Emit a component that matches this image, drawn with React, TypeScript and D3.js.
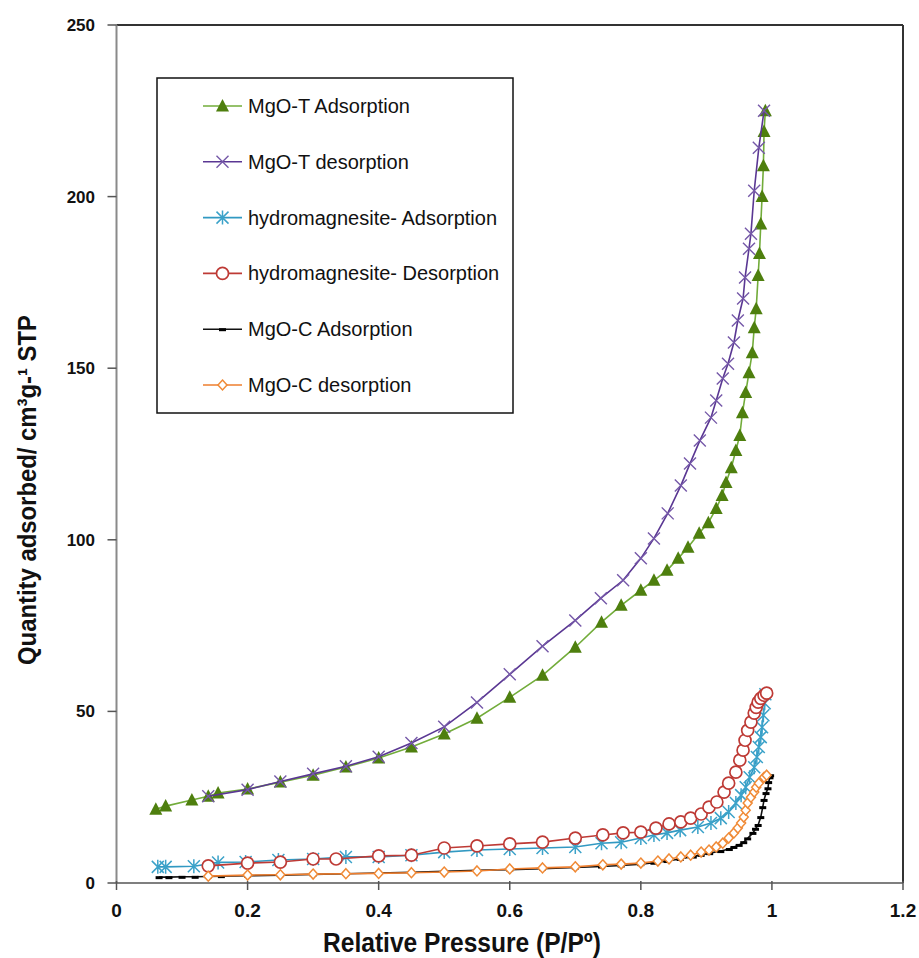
import React from "react";
import * as d3 from "d3";

// relative pressure (P/P0) and quantity adsorbed (cm3/g STP)
const mgoTAdsX = [0.06, 0.075, 0.115, 0.14, 0.155, 0.2, 0.25, 0.3, 0.35, 0.4, 0.45, 0.5, 0.55, 0.6, 0.65, 0.7, 0.74, 0.77, 0.8, 0.82, 0.84, 0.857, 0.872, 0.889, 0.903, 0.915, 0.924, 0.93, 0.938, 0.945, 0.951, 0.955, 0.96, 0.965, 0.97, 0.973, 0.976, 0.979, 0.981, 0.983, 0.985, 0.987, 0.988, 0.99];
const mgoTAdsY = [21.5, 22.4, 24.2, 25.3, 26.2, 27.4, 29.4, 31.4, 33.8, 36.4, 39.6, 43.4, 48, 54.1, 60.5, 68.7, 76, 80.9, 85.3, 88.2, 91.1, 94.6, 97.8, 101.9, 105, 109.1, 112.9, 116.7, 121, 126, 130.4, 137, 142.9, 148.7, 154.5, 161.8, 167.3, 177, 183.4, 192, 200, 209, 219, 225];

const mgoTDesX = [0.14, 0.2, 0.25, 0.3, 0.35, 0.4, 0.45, 0.5, 0.55, 0.6, 0.65, 0.7, 0.739, 0.773, 0.8, 0.82, 0.841, 0.861, 0.875, 0.89, 0.907, 0.915, 0.925, 0.933, 0.942, 0.948, 0.956, 0.959, 0.965, 0.968, 0.973, 0.98, 0.988];
const mgoTDesY = [25.3, 27.2, 29.6, 31.8, 34, 36.8, 40.8, 45.5, 52.6, 60.8, 69, 76.5, 83, 88.2, 94.6, 100.4, 107.7, 115.8, 122.2, 128.9, 135.6, 140.6, 147, 151.3, 157.5, 163.9, 170.3, 176.4, 184.8, 189.2, 201.7, 214.2, 225];

const hydroAdsX = [0.063, 0.075, 0.118, 0.155, 0.197, 0.247, 0.3, 0.35, 0.4, 0.45, 0.5, 0.55, 0.6, 0.65, 0.7, 0.74, 0.77, 0.8, 0.82, 0.84, 0.86, 0.887, 0.907, 0.922, 0.934, 0.945, 0.953, 0.96, 0.966, 0.973, 0.977, 0.98, 0.983, 0.985, 0.987, 0.989, 0.99];
const hydroAdsY = [4.7, 4.7, 4.9, 6.0, 6.1, 6.7, 7.0, 7.6, 7.6, 8.1, 9.0, 9.6, 9.9, 10.2, 10.5, 11.6, 11.9, 13.1, 14.0, 14.6, 15.4, 16.3, 17.5, 18.9, 20.7, 23.3, 25.6, 27.9, 30.8, 33.7, 36.7, 39.6, 42.5, 45.4, 48.9, 52.4, 55];

const hydroDesX = [0.14, 0.2, 0.25, 0.3, 0.335, 0.4, 0.45, 0.5, 0.55, 0.6, 0.65, 0.7, 0.742, 0.773, 0.8, 0.823, 0.843, 0.861, 0.876, 0.892, 0.904, 0.916, 0.927, 0.934, 0.945, 0.951, 0.956, 0.959, 0.963, 0.968, 0.973, 0.976, 0.979, 0.983, 0.988, 0.992];
const hydroDesY = [5.0, 5.8, 6.1, 7.0, 7.0, 7.9, 8.1, 10.2, 10.8, 11.4, 11.9, 13.1, 14.0, 14.6, 14.8, 16.0, 17.2, 17.8, 18.9, 20.1, 22.1, 23.6, 26.5, 29.1, 32.3, 35.8, 38.7, 41.6, 44.5, 46.9, 49.5, 51.2, 52.7, 53.8, 54.7, 55.3];

const mgoCAdsX = [0.065, 0.08, 0.1, 0.12, 0.14, 0.16, 0.2, 0.25, 0.3, 0.35, 0.4, 0.45, 0.5, 0.55, 0.6, 0.65, 0.7, 0.74, 0.77, 0.8, 0.82, 0.84, 0.86, 0.88, 0.892, 0.905, 0.922, 0.935, 0.942, 0.95, 0.957, 0.963, 0.971, 0.975, 0.979, 0.983, 0.986, 0.988, 0.991, 0.994, 0.995, 0.997, 0.998];
const mgoCAdsY = [1.7, 1.7, 1.8, 1.8, 1.9, 2.0, 2.1, 2.3, 2.5, 2.7, 2.9, 3.1, 3.4, 3.7, 3.9, 4.2, 4.5, 4.8, 5.1, 5.5, 5.9, 6.4, 7.0, 7.7, 8.2, 8.7, 9.3, 9.9, 10.5, 11.1, 11.9, 13.0, 14.6, 15.8, 16.9, 19.2, 22.1, 24.2, 26.2, 27.6, 29.4, 30.8, 31.4];

const mgoCDesX = [0.14, 0.2, 0.25, 0.3, 0.35, 0.4, 0.45, 0.5, 0.55, 0.6, 0.65, 0.7, 0.742, 0.77, 0.8, 0.826, 0.843, 0.861, 0.876, 0.892, 0.904, 0.915, 0.925, 0.934, 0.942, 0.948, 0.953, 0.957, 0.96, 0.963, 0.968, 0.973, 0.976, 0.98, 0.988, 0.992];
const mgoCDesY = [2.0, 2.3, 2.4, 2.6, 2.7, 2.8, 3.0, 3.2, 3.5, 4.1, 4.4, 4.7, 5.3, 5.5, 5.8, 6.4, 7.0, 7.6, 8.1, 9.0, 9.6, 10.5, 11.6, 13.1, 14.6, 16.0, 17.5, 19.2, 21.2, 23.3, 25.0, 26.5, 27.9, 29.1, 30.8, 31.4];

const seriesNames = [
  "MgO-T Adsorption",
  "MgO-T desorption",
  "hydromagnesite- Adsorption",
  "hydromagnesite- Desorption",
  "MgO-C Adsorption",
  "MgO-C desorption",
];

const xTicks = [0, 0.2, 0.4, 0.6, 0.8, 1, 1.2];
const yTicks = [0, 50, 100, 150, 200, 250];

const FONT = "'Liberation Sans', Arial, Helvetica, sans-serif";

const series = [
  { name: seriesNames[0], xs: mgoTAdsX, ys: mgoTAdsY, line: "#72AC3A", color: "#4E7F0E", marker: "triangle" },
  { name: seriesNames[1], xs: mgoTDesX, ys: mgoTDesY, line: "#5A3793", color: "#7558A8", marker: "x" },
  { name: seriesNames[2], xs: hydroAdsX, ys: hydroAdsY, line: "#3199C2", color: "#3BA2C9", marker: "star" },
  { name: seriesNames[3], xs: hydroDesX, ys: hydroDesY, line: "#BE3A35", color: "#BE3A35", marker: "circle" },
  { name: seriesNames[4], xs: mgoCAdsX, ys: mgoCAdsY, line: "#111111", color: "#000000", marker: "dash" },
  { name: seriesNames[5], xs: mgoCDesX, ys: mgoCDesY, line: "#EE7E2E", color: "#F08A36", marker: "diamond" },
];

function Marker({ type, x, y, color }) {
  switch (type) {
    case "triangle":
      return <path d={`M${x},${y - 7}L${x + 6.5},${y + 5.5}L${x - 6.5},${y + 5.5}Z`} fill={color} />;
    case "x":
      return (
        <path
          d={`M${x - 6},${y - 6}L${x + 6},${y + 6}M${x - 6},${y + 6}L${x + 6},${y - 6}`}
          stroke={color}
          strokeWidth={1.4}
        />
      );
    case "star":
      return (
        <path
          d={`M${x - 6},${y - 6}L${x + 6},${y + 6}M${x - 6},${y + 6}L${x + 6},${y - 6}M${x},${y - 7}L${x},${y + 7}`}
          stroke={color}
          strokeWidth={1.5}
        />
      );
    case "circle":
      return <circle cx={x} cy={y} r={6} fill="#fff" stroke={color} strokeWidth={1.7} />;
    case "dash":
      return <rect x={x - 3.5} y={y - 1} width={7} height={3} fill={color} />;
    case "diamond":
      return (
        <path d={`M${x},${y - 5}L${x + 4.5},${y}L${x},${y + 5}L${x - 4.5},${y}Z`} fill="#fff" stroke={color} strokeWidth={1.5} />
      );
    default:
      return null;
  }
}

export default function App() {
  const width = 919;
  const height = 958;
  const x = d3.scaleLinear().domain([0, 1.2]).range([116.5, 903]);
  const y = d3.scaleLinear().domain([0, 250]).range([883, 25]);

  const line = d3
    .line<[number, number]>()
    .x((d) => x(d[0]))
    .y((d) => y(d[1]));

  // legend
  const legend = { left: 157, top: 78, width: 356, height: 335, rowStart: 106, rowGap: 55.8 };

  return (
    <svg
      width={width}
      height={height}
      style={{ position: "absolute", left: 0, top: 0, background: "#fff" }}
      fontFamily={FONT}
    >
      <rect x={0} y={0} width={width} height={height} fill="#fff" />

      {/* frame */}
      <line x1={x(0)} x2={x(1.2)} y1={y(250)} y2={y(250)} stroke="#333" strokeWidth={2} />
      <line x1={x(1.2)} x2={x(1.2)} y1={y(250)} y2={y(0)} stroke="#333" strokeWidth={2} />
      <line x1={x(0)} x2={x(0)} y1={y(250)} y2={y(0)} stroke="#8a8a8a" strokeWidth={2} />
      <line x1={x(0)} x2={x(1.2)} y1={y(0)} y2={y(0)} stroke="#555" strokeWidth={1.5} />

      {/* y ticks */}
      {yTicks.map((t) => (
        <g key={"y" + t}>
          <line x1={x(0) - 9} x2={x(0)} y1={y(t)} y2={y(t)} stroke="#555" strokeWidth={1.5} />
          <text x={95} y={y(t) + 6} textAnchor="end" fontSize={17} fontWeight="bold" fill="#111">
            {t}
          </text>
        </g>
      ))}

      {/* x ticks */}
      {xTicks.map((t) => (
        <g key={"x" + t}>
          <line x1={x(t)} x2={x(t)} y1={y(0) - 2} y2={y(0) + 7} stroke="#555" strokeWidth={1.5} />
          <text x={x(t)} y={917} textAnchor="middle" fontSize={19} fontWeight="bold" fill="#111">
            {t}
          </text>
        </g>
      ))}

      {/* axis titles */}
      <text
        x={462}
        y={952}
        textAnchor="middle"
        fontSize={27}
        fontWeight="bold"
        textLength={278}
        lengthAdjust="spacingAndGlyphs"
        fill="#111"
      >
        Relative Pressure (P/Pº)
      </text>
      <text
        transform="translate(36,490) rotate(-90)"
        textAnchor="middle"
        fontSize={26}
        fontWeight="bold"
        textLength={350}
        lengthAdjust="spacingAndGlyphs"
        fill="#111"
      >
        Quantity adsorbed/ cm³g-¹ STP
      </text>

      {/* series */}
      {series.map((s) => {
        const pts: [number, number][] = s.xs.map((v, i) => [v, s.ys[i]]);
        return (
          <g key={s.name}>
            <path d={line(pts) || ""} fill="none" stroke={s.line} strokeWidth={1.6} />
            {pts.map((p, i) => (
              <Marker key={i} type={s.marker} x={x(p[0])} y={y(p[1])} color={s.color} />
            ))}
          </g>
        );
      })}

      {/* legend */}
      <rect
        x={legend.left}
        y={legend.top}
        width={legend.width}
        height={legend.height}
        fill="#fff"
        stroke="#111"
        strokeWidth={1.5}
      />
      {series.map((s, i) => {
        const cy = legend.rowStart + i * legend.rowGap;
        return (
          <g key={"lg" + s.name}>
            <line x1={203} x2={242} y1={cy} y2={cy} stroke={s.line} strokeWidth={1.6} />
            <Marker type={s.marker} x={222.5} y={cy} color={s.color} />
            <text x={248} y={cy + 7} fontSize={20} fill="#111">
              {s.name}
            </text>
          </g>
        );
      })}
    </svg>
  );
}
